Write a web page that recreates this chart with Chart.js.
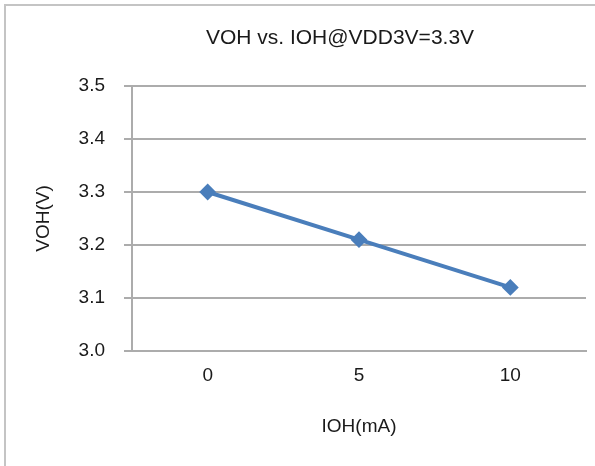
<!DOCTYPE html>
<html>
<head>
<meta charset="utf-8">
<script src="https://cdn.jsdelivr.net/npm/chart.js@4.4.1/dist/chart.umd.min.js"></script>
<style>
  html, body { margin: 0; padding: 0; background: #fff; }
  #wrap { position: relative; width: 595px; height: 466px; overflow: hidden; }
  #frame {
    position: absolute; left: 4px; top: 4px; width: 620px; height: 500px;
    border-left: 2px solid #c4c4c4; border-top: 2px solid #c4c4c4;
  }
  #voh { position: absolute; left: 0; top: 0; }
</style>
</head>
<body>
<div id="wrap">
  <div id="frame"></div>
  <canvas id="voh" width="595" height="466"></canvas>
</div>
<script>
const chartTitle = "VOH vs. IOH@VDD3V=3.3V";
const iohLabels = ["0", "5", "10"];          // IOH (mA)
const vohValues = [3.30, 3.21, 3.12];        // VOH (V)
const yMin = 3.0;
const yMax = 3.5;
const yStep = 0.1;

const FONT = "'Liberation Sans', Arial, sans-serif";
const TEXT = "#1a1a1a";
const GRID = "#acacac";

// title drawn a bit left of the plot centre, like the original
const titlePlugin = {
  id: "sheetTitle",
  afterDraw(chart) {
    const ctx = chart.ctx;
    ctx.save();
    ctx.font = "21px " + FONT;
    ctx.fillStyle = TEXT;
    ctx.textAlign = "center";
    ctx.textBaseline = "middle";
    ctx.fillText(chartTitle, 340, 38);
    ctx.restore();
  },
};

new Chart(document.getElementById("voh").getContext("2d"), {
  type: "line",
  data: {
    labels: iohLabels,
    datasets: [
      {
        label: "VOH",
        data: vohValues,
        borderColor: "#4a7ebb",
        backgroundColor: "#4a7ebb",
        borderWidth: 4,
        pointStyle: "rectRot",
        pointRadius: 7,
        pointBorderWidth: 2,
        tension: 0,
      },
    ],
  },
  options: {
    responsive: false,
    animation: false,
    devicePixelRatio: 1,
    layout: { padding: { left: 0, right: 6, top: 86, bottom: 0 } },
    plugins: {
      legend: { display: false },
      title: { display: false },
      tooltip: { enabled: false },
    },
    scales: {
      x: {
        offset: true,
        grid: { display: false, drawTicks: false },
        border: { display: true, color: GRID, width: 2 },
        ticks: { color: TEXT, font: { family: FONT, size: 19 }, padding: 13 },
        title: {
          display: true,
          text: "IOH(mA)",
          color: TEXT,
          font: { family: FONT, size: 19 },
          padding: { top: 0, bottom: 28 },
        },
        afterFit(scale) { scale.height = 115; },
      },
      y: {
        min: yMin,
        max: yMax,
        grid: { color: GRID, lineWidth: 2, tickLength: 8 },
        border: { display: true, color: GRID, width: 2 },
        ticks: {
          stepSize: yStep,
          color: TEXT,
          font: { family: FONT, size: 19 },
          padding: 19,
          callback: (v) => Number(v).toFixed(1),
        },
        title: {
          display: true,
          text: "VOH(V)",
          color: TEXT,
          font: { family: FONT, size: 19 },
          padding: { top: 32, bottom: 0 },
        },
        afterFit(scale) { scale.width = 132; },
      },
    },
  },
  plugins: [titlePlugin],
});
</script>
</body>
</html>
